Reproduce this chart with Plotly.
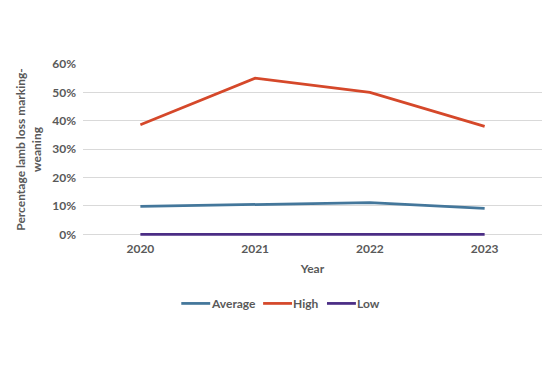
import plotly.graph_objects as go

years = ["2020", "2021", "2022", "2023"]
average = [0.098, 0.105, 0.112, 0.091]
high = [0.386, 0.55, 0.50, 0.38]
low = [0.0, 0.0, 0.0, 0.0]

series_names = ["Average", "High", "Low"]
series_colors = ["#44779B", "#D5482A", "#4B2D85"]

font_family = "Lato"
gray = "#595959"

# small extension below 0 so the Low line at 0% is not clipped in half
y_min, y_max = -0.006, 0.6
L, R, T, W, H = 74.5, 15.5, 56, 550, 356
PH = 170 * (y_max - y_min) / 0.6
B = H - T - PH
PW = W - L - R

def px_to_paper_x(px):
    return (px - L) / PW

def px_to_paper_y(py):
    return (H - B - py) / PH

fig = go.Figure()
for name, vals, col in zip(series_names, [average, high, low], series_colors):
    fig.add_trace(go.Scatter(x=years, y=vals, mode="lines", name=name,
                             line=dict(color=col, width=2.75), showlegend=False))

fig.update_layout(
    width=W, height=H,
    margin=dict(l=L, r=R, t=T, b=B),
    paper_bgcolor="white", plot_bgcolor="white",
    font=dict(family=font_family, size=12, color=gray),
    xaxis=dict(type="category", range=[-0.5, 3.5], showgrid=False, showline=False,
               ticks="", ticklabelstandoff=4,
               tickfont=dict(size=12, color=gray, weight="bold"),
               title=dict(text="<b>Year</b>", font=dict(size=12, color=gray), standoff=9)),
    yaxis=dict(range=[y_min, y_max], tickvals=[0, 0.1, 0.2, 0.3, 0.4, 0.5, 0.6],
               tickformat=".0%", showgrid=True,
               gridcolor="#D9D9D9", gridwidth=1, zeroline=False, showline=False,
               ticks="", ticklabelstandoff=6,
               tickfont=dict(size=12, color=gray, weight="bold")),
    showlegend=False,
)

fig.add_annotation(text="<b>Percentage lamb loss marking-<br>weaning</b>",
                   xref="paper", yref="paper", x=px_to_paper_x(20), y=px_to_paper_y(141),
                   xanchor="center", yanchor="middle", textangle=-90,
                   showarrow=False, font=dict(size=12, color=gray))

# custom legend (line sample directly adjacent to label)
legend_y = px_to_paper_y(295)
legend_starts = [173, 255, 319]
for name, col, x0 in zip(series_names, series_colors, legend_starts):
    fig.add_shape(type="line", xref="paper", yref="paper",
                  x0=px_to_paper_x(x0), x1=px_to_paper_x(x0 + 29),
                  y0=legend_y, y1=legend_y, line=dict(color=col, width=2.75))
    fig.add_annotation(text="<b>" + name + "</b>", xref="paper", yref="paper",
                       x=px_to_paper_x(x0 + 29), y=legend_y, xanchor="left",
                       yanchor="middle", showarrow=False, xshift=-1,
                       font=dict(size=12, color=gray))

# chart frame edge on the right
fig.add_shape(type="line", xref="paper", yref="paper",
              x0=px_to_paper_x(548), x1=px_to_paper_x(548),
              y0=px_to_paper_y(45), y1=px_to_paper_y(310),
              line=dict(color="#C8C8C8", width=1.5))

fig.write_html("out.html")
